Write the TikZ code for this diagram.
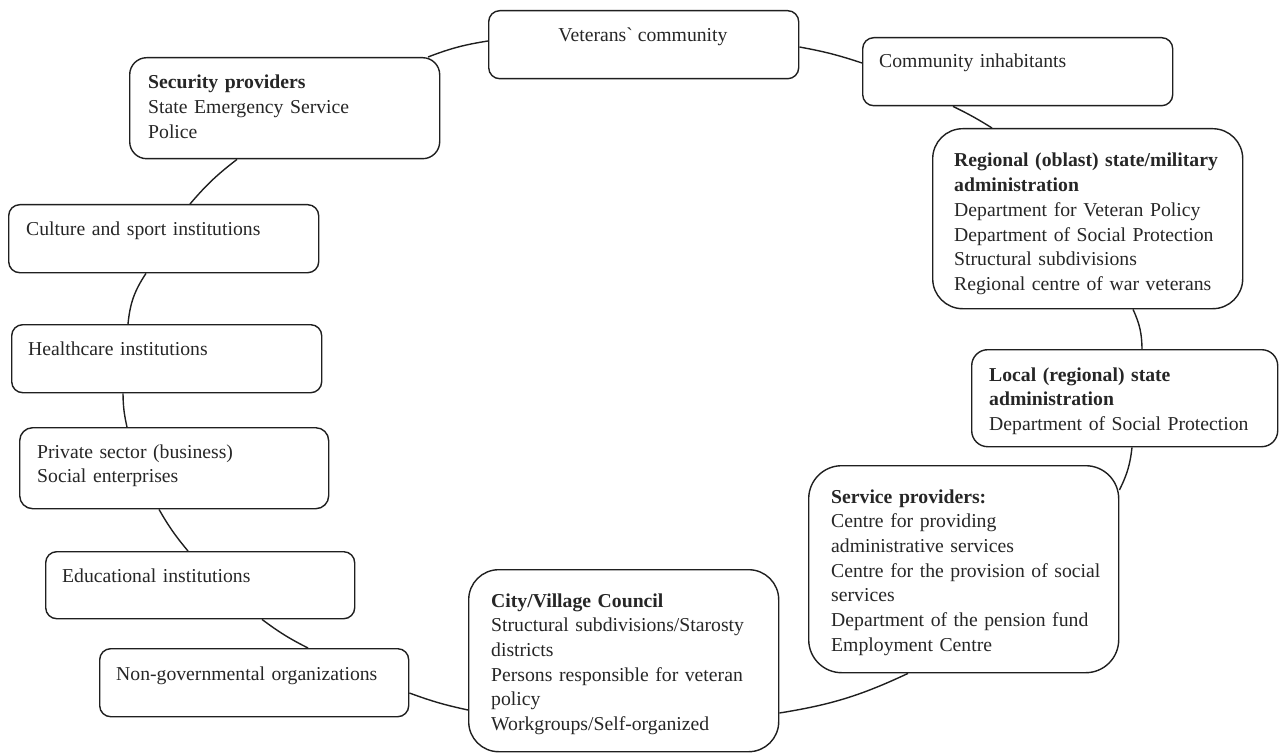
\documentclass[tikz,border=0pt]{standalone}
\usepackage{fontspec}
\setmainfont{Liberation Serif}
\usetikzlibrary{calc}
\tikzset{
  box/.style={draw=black!88, line width=1.4pt, anchor=north west, inner sep=0pt},
  txt/.style={anchor=base west, inner sep=0pt, text width=400pt, align=left,
              text=black!85, font=\fontsize{19.7}{24.7}\selectfont},
  txtc/.style={anchor=base, inner sep=0pt, text=black!85, font=\fontsize{19.7}{24.7}\selectfont},
  conn/.style={draw=black!88, line width=1.4pt},
}
\begin{document}
\begin{tikzpicture}[x=1pt,y=-1pt]
\useasboundingbox (0,0) rectangle (1279,754);
% boxes
\node[box, minimum width=310pt, minimum height=68pt, rounded corners=11pt] (vet) at (488,10) {};
\node[box, minimum width=310pt, minimum height=68pt, rounded corners=11pt] (com) at (862,37) {};
\node[box, minimum width=310pt, minimum height=101pt, rounded corners=17pt] (sec) at (129,57) {};
\node[box, minimum width=310pt, minimum height=180pt, rounded corners=30pt] (reg) at (932,128) {};
\node[box, minimum width=310pt, minimum height=68pt, rounded corners=11pt] (cult) at (8,204) {};
\node[box, minimum width=306pt, minimum height=97pt, rounded corners=16pt] (loc) at (971,349) {};
\node[box, minimum width=310pt, minimum height=68pt, rounded corners=11pt] (health) at (11,324) {};
\node[box, minimum width=309pt, minimum height=81pt, rounded corners=13pt] (priv) at (19,427) {};
\node[box, minimum width=310pt, minimum height=207pt, rounded corners=33pt] (ser) at (808,465) {};
\node[box, minimum width=309pt, minimum height=67pt, rounded corners=11pt] (edu) at (45,551) {};
\node[box, minimum width=309pt, minimum height=68pt, rounded corners=11pt] (ngo) at (99,648) {};
\node[box, minimum width=310pt, minimum height=182pt, rounded corners=30pt] (city) at (468,569) {};
% texts
\node[txtc] (vett) at (643,42) {Veterans\textasciigrave{} community};
\node[txt] (comt) at (879,68) {Community inhabitants};
\node[txt] (sect) at (148,89) {\textbf{Security providers}\\State Emergency Service\\Police};
\node[txt] (regt) at (954,167) {\textbf{Regional (oblast) state/military}\\\textbf{administration}\\Department for Veteran Policy\\Department of Social Protection\\Structural subdivisions\\Regional centre of war veterans};
\node[txt] (cultt) at (26,235) {Culture and sport institutions};
\node[txt] (loct) at (989,381) {\textbf{Local (regional) state}\\\textbf{administration}\\Department of Social Protection};
\node[txt] (healtht) at (28,355) {Healthcare institutions};
\node[txt] (privt) at (37,458) {Private sector (business)\\Social enterprises};
\node[txt] (sert) at (831,503) {\textbf{Service providers:}\\Centre for providing\\administrative services\\Centre for the provision of social\\services\\Department of the pension fund\\Employment Centre};
\node[txt] (edut) at (62,582) {Educational institutions};
\node[txt] (ngot) at (116,680) {Non-governmental organizations};
\node[txt] (cityt) at (491,607) {\textbf{City/Village Council}\\Structural subdivisions/Starosty\\districts\\Persons responsible for veteran\\policy\\Workgroups/Self-organized};
% connectors
\draw[conn] ($(sec.north west)+(299,0)$) to[bend left=6] ($(vet.north west)+(0,31)$);
\draw[conn] ($(vet.north east)+(0,37)$) to[bend left=4] ($(com.north west)+(0,26)$);
\draw[conn] ($(com.south west)+(91,0)$) to[bend left=3] ($(reg.north west)+(60,0)$);
\draw[conn] ($(reg.south west)+(201,0)$) to[bend left=12] ($(loc.north west)+(171,0)$);
\draw[conn] ($(loc.south west)+(161,0)$) to[bend left=10] ($(ser.north east)+(0,25)$);
\draw[conn] ($(ser.south west)+(100,0)$) to[bend left=8] ($(city.north east)+(0,144)$);
\draw[conn] ($(city.north west)+(0,141)$) to[bend left=4] ($(ngo.north east)+(0,45)$);
\draw[conn] ($(ngo.north west)+(209,0)$) to[bend left=5] ($(edu.south west)+(217,0)$);
\draw[conn] ($(edu.north west)+(143,0)$) to[bend left=5] ($(priv.south west)+(140,0)$);
\draw[conn] ($(priv.north west)+(108,0)$) to[bend left=6] ($(health.south west)+(112,0)$);
\draw[conn] ($(health.north west)+(117,0)$) to[bend left=14] ($(cult.south west)+(138,0)$);
\draw[conn] ($(cult.north west)+(182,0)$) to[bend left=6] ($(sec.south west)+(108,0)$);
\end{tikzpicture}
\end{document}
